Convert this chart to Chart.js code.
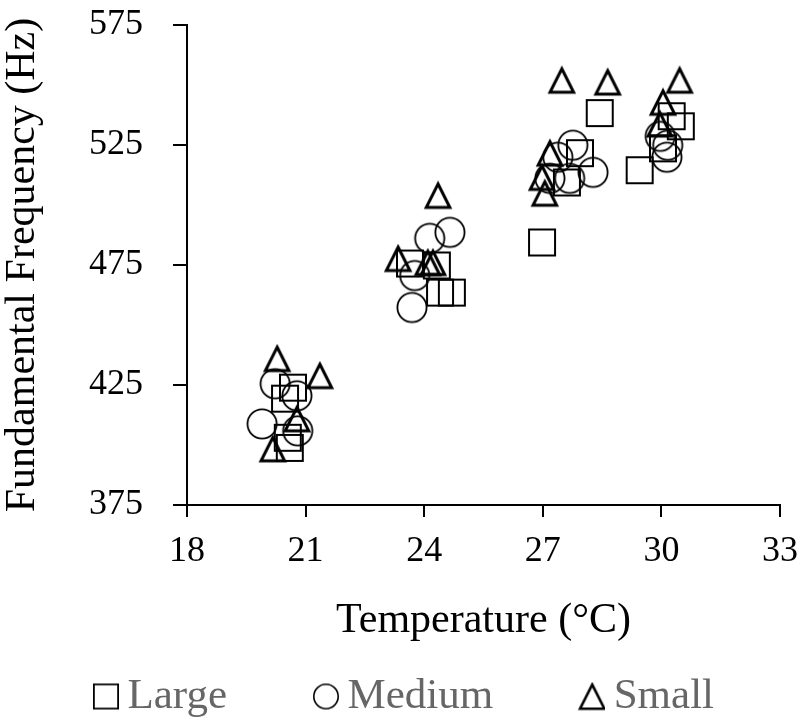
<!DOCTYPE html>
<html>
<head>
<meta charset="utf-8">
<script src="https://cdn.jsdelivr.net/npm/chart.js@4/dist/chart.umd.min.js"></script>
<style>
  html, body { margin: 0; padding: 0; background: #fff; }
</style>
</head>
<body>
<canvas id="chart" width="800" height="722"></canvas>
<script>
// values
const largeTemp  = [20.68, 20.48, 20.55, 20.6, 23.64, 24.32, 24.4, 24.7, 28.44, 27.94, 27.61, 26.98, 30.26, 30.49, 30.04, 29.45];
const largeFreq  = [423.9, 419.3, 403, 398.8, 475.6, 474.8, 463.5, 463.5, 538.3, 521.6, 509.4, 484.4, 537, 532.8, 523.6, 514.5];
const mediumTemp = [20.23, 20.78, 19.9, 20.8, 24.14, 24.65, 23.76, 23.69, 27.76, 27.38, 28.27, 27.68, 27.18, 29.97, 30.16, 30.14];
const mediumFreq = [425.5, 420.5, 408.8, 405.9, 486.1, 488.6, 470.6, 457.3, 524.9, 519.9, 513.6, 511.1, 511.1, 528.6, 524.9, 519.9];
const smallTemp  = [20.28, 21.36, 20.78, 20.17, 24.35, 23.34, 24.09, 24.22, 27.48, 28.64, 27.18, 26.98, 27.05, 30.46, 30.04, 29.96];
const smallFreq  = [436, 428.9, 410.9, 398.4, 504, 477.7, 476, 476, 552, 551.2, 521.6, 511.5, 504.9, 552, 542.8, 533.7];

const seriesNames = ['Large', 'Medium', 'Small'];
const xTicks = [18, 33, 3];   // min, max, step
const yTicks = [375, 575, 50];

const FONT = "'Liberation Serif', 'Times New Roman', serif";

function toPoints(xs, ys) {
  return xs.map((x, i) => ({ x: x, y: ys[i] }));
}

// hollow marker drawn on a small canvas, used as pointStyle
function makeMarker(shape, w, h, cx, size, lw) {
  const c = document.createElement('canvas');
  c.width = w; c.height = h;
  const g = c.getContext('2d');
  g.strokeStyle = '#000';
  g.lineWidth = lw;
  g.lineJoin = 'miter';
  const cy = h / 2;
  g.beginPath();
  if (shape === 'rect') {
    g.rect(cx - size / 2 + lw / 2, cy - size / 2 + lw / 2, size - lw, size - lw);
  } else if (shape === 'circle') {
    g.arc(cx, cy, size / 2 - lw / 2, 0, Math.PI * 2);
  } else {
    const half = size / 2;
    g.moveTo(cx, cy - half + lw);
    g.lineTo(cx + half - lw * 0.9, cy + half - 1 - lw / 2);
    g.lineTo(cx - half + lw * 0.9, cy + half - 1 - lw / 2);
    g.closePath();
  }
  g.stroke();
  return c;
}

const pointMarkers = [
  makeMarker('rect', 30, 30, 15, 28, 2),
  makeMarker('circle', 34, 34, 17, 31, 1.8),
  makeMarker('tri', 32, 30, 16, 29, 3)
];

const legendBox = 95;
const legendMarkers = [
  makeMarker('rect', legendBox + 26, 30, legendBox + 13, 26, 1.8),
  makeMarker('circle', legendBox + 26, 30, legendBox + 13, 26, 1.6),
  makeMarker('tri', legendBox + 26, 30, legendBox + 13, 29, 2.6)
];

const seriesData = [
  toPoints(largeTemp, largeFreq),
  toPoints(mediumTemp, mediumFreq),
  toPoints(smallTemp, smallFreq)
];

const datasets = seriesNames.map((name, i) => ({
  label: name,
  data: seriesData[i],
  pointStyle: pointMarkers[i],
  pointRadius: 14,
  pointHoverRadius: 14,
  borderColor: '#000',
  backgroundColor: 'rgba(0,0,0,0)'
}));

new Chart(document.getElementById('chart'), {
  type: 'scatter',
  data: { datasets: datasets },
  options: {
    responsive: false,
    animation: false,
    layout: { padding: { left: 7, right: 20, top: 25, bottom: -6 } },
    plugins: {
      tooltip: { enabled: false },
      legend: {
        position: 'bottom',
        align: 'start',
        labels: {
          usePointStyle: true,
          pointStyleWidth: legendBox,
          padding: 4,
          color: '#666',
          font: { family: FONT, size: 43 },
          generateLabels: function (chart) {
            return chart.data.datasets.map((ds, i) => ({
              text: ds.label,
              datasetIndex: i,
              pointStyle: legendMarkers[i],
              fillStyle: 'rgba(0,0,0,0)',
              strokeStyle: '#000',
              lineWidth: 0,
              hidden: false,
              fontColor: '#666'
            }));
          }
        }
      }
    },
    scales: {
      x: {
        type: 'linear',
        min: xTicks[0],
        max: xTicks[1],
        afterFit: function (scale) {
          scale.height = 166;
          scale.paddingLeft = 0;
          scale.paddingRight = 0;
        },
        ticks: {
          stepSize: xTicks[2],
          color: '#000',
          padding: 13,
          font: { family: FONT, size: 36 }
        },
        grid: {
          drawOnChartArea: false,
          drawTicks: true,
          tickLength: 12,
          tickColor: '#000',
          lineWidth: 2
        },
        border: { color: '#000', width: 2 },
        title: {
          display: true,
          text: 'Temperature (°C)',
          color: '#000',
          font: { family: FONT, size: 42 },
          padding: { top: 0, bottom: 25 }
        }
      },
      y: {
        type: 'linear',
        min: yTicks[0],
        max: yTicks[1],
        afterFit: function (scale) {
          scale.width = 180;
          scale.paddingTop = 0;
          scale.paddingBottom = 0;
        },
        ticks: {
          stepSize: yTicks[2],
          color: '#000',
          padding: 30,
          font: { family: FONT, size: 36 }
        },
        grid: {
          drawOnChartArea: false,
          drawTicks: true,
          tickLength: 14,
          tickColor: '#000',
          lineWidth: 2
        },
        border: { color: '#000', width: 2 },
        title: {
          display: true,
          text: 'Fundamental Frequency (Hz)',
          color: '#000',
          font: { family: FONT, size: 42, lineHeight: 0.6 },
          padding: { top: 3, bottom: 0 }
        }
      }
    }
  }
});
</script>
</body>
</html>
